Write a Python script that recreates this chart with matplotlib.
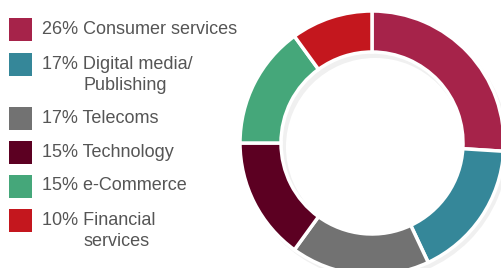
import matplotlib.pyplot as plt
from matplotlib.patches import Rectangle

# sector data
labels = ["Consumer services", "Digital media/\nPublishing", "Telecoms",
          "Technology", "e-Commerce", "Financial\nservices"]
shares = [26, 17, 17, 15, 15, 10]
colors = ["#A6234A", "#358799", "#727272", "#5C0022", "#45A77A", "#C4171E"]

W, H = 501, 268
fig = plt.figure(figsize=(W / 100, H / 100), dpi=100)
ax = fig.add_axes([0, 0, 1, 1])
ax.axis("off")

cx, cy = 372, H - 143

# faint shadow under the ring
ax.pie([1], colors=["#000000"], radius=133, center=(cx + 3, cy - 4),
       startangle=90, wedgeprops=dict(width=44, alpha=0.06, linewidth=0))

ax.pie(shares, colors=colors, radius=132, center=(cx, cy),
       startangle=90, counterclock=False,
       wedgeprops=dict(width=41, edgecolor="white", linewidth=2.5))
ax.set_xlim(0, W)
ax.set_ylim(0, H)
ax.set_aspect("equal")

# legend on the left (rows measured from the top)
row_y = [29.5, 64.5, 118.5, 152.5, 186, 220.5]
for yt, s, lab, c in zip(row_y, shares, labels, colors):
    y = H - yt
    ax.add_patch(Rectangle((9, y - 11.5), 23, 23, color=c, linewidth=0))
    first, *rest = lab.split("\n")
    ax.text(42, y, f"{s}% {first}", fontsize=13, color="#555555",
            family="Liberation Sans", va="center", ha="left")
    for k, line in enumerate(rest, 1):
        ax.text(84, y - 21.5 * k, line, fontsize=13, color="#555555",
                family="Liberation Sans", va="center", ha="left")

fig.savefig("out.png", dpi=100)
